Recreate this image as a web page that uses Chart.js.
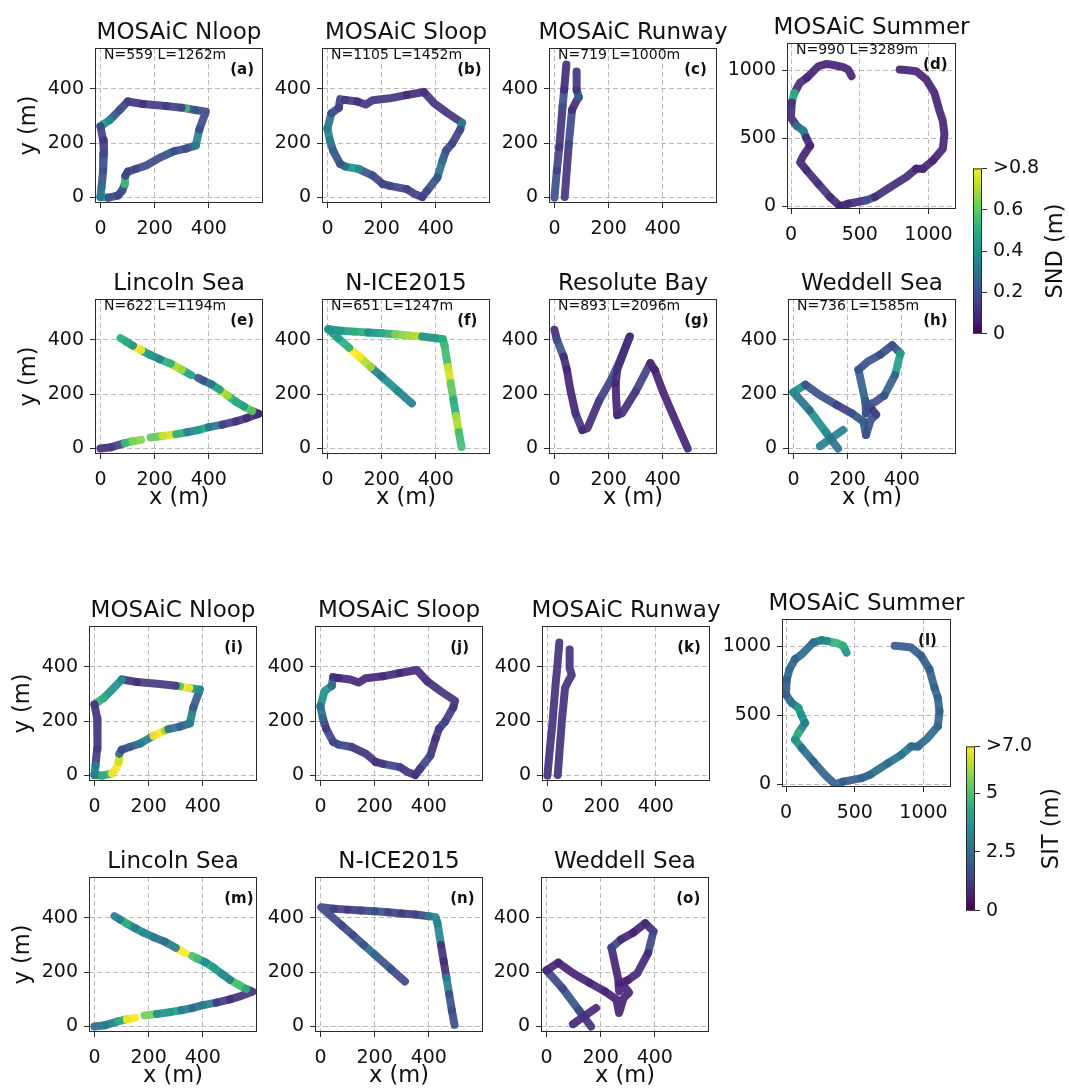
<!DOCTYPE html>
<html>
<head>
<meta charset="utf-8">
<title>Snow depth and ice thickness along survey tracks</title>
<script src="https://cdn.jsdelivr.net/npm/chart.js@4.4.1/dist/chart.umd.min.js"></script>
<style>
  html, body { margin: 0; padding: 0; background: #fff; }
  body { position: relative; width: 1069px; height: 1088px; overflow: hidden; }
  canvas { position: absolute; }
</style>
</head>
<body>
<script>
// ---------------------------------------------------------------
// Survey tracks (x, y in metres). Each track is shared by its snow
// depth (SND) panel and its sea-ice thickness (SIT) panel.
// null breaks the line where the track has a gap.
// ---------------------------------------------------------------
const nloopX = [0, 30, 65, 80, 90, 92, 101, 130, 169, 218, 260, 273, 315, 352, 365, 389, 350, 316, 300, 242, 157, 101, 71, 34, 0, 10, 13, 10, 4, 0];
const nloopY = [2, 0, 8, 25, 50, 80, 95, 105, 118, 146, 165, 171, 180, 192, 250, 316, 322, 328, 330, 337, 344, 353, 322, 285, 262, 211, 161, 99, 37, 2];
const nloopSND = [0.45, 0.18, 0.16, 0.2, 0.55, 0.15, 0.16, 0.18, 0.18, 0.18, 0.3, 0.18, 0.2, 0.35, 0.18, 0.18, 0.2, 0.55, 0.15, 0.14, 0.12, 0.16, 0.2, 0.4, 0.16, 0.14, 0.18, 0.2, 0.3, 0.3];
const nloopSIT = [3.5, 4.5, 7.0, 7.0, 6.5, 2.5, 1.5, 2.0, 3.0, 7.0, 6.0, 2.5, 2.2, 3.0, 2.0, 3.5, 7.0, 5.0, 1.2, 1.2, 1.0, 3.5, 3.5, 4.5, 1.0, 1.0, 1.0, 1.2, 3.0, 3.0];

const sloopX = [0, 15, 42, 47, 66, 110, 141, 167, 230, 293, 356, 394, 444, 497, 490, 460, 438, 425, 406, 368, 350, 324, 293, 230, 204, 167, 116, 66, 47, 21, 9, 0];
const sloopY = [254, 310, 330, 362, 359, 353, 342, 358, 365, 377, 388, 347, 310, 275, 250, 198, 173, 136, 74, 25, 2, 12, 31, 43, 50, 81, 105, 114, 124, 173, 211, 254];
const sloopSND = [0.3, 0.2, 0.15, 0.15, 0.14, 0.12, 0.12, 0.12, 0.12, 0.1, 0.12, 0.12, 0.12, 0.35, 0.16, 0.18, 0.2, 0.3, 0.2, 0.18, 0.14, 0.14, 0.16, 0.18, 0.16, 0.2, 0.4, 0.3, 0.2, 0.25, 0.35, 0.3];
const sloopSIT = [3.5, 3.5, 2.5, 1.0, 0.8, 0.8, 0.8, 0.8, 0.9, 0.8, 0.8, 1.0, 1.0, 1.0, 1.2, 1.5, 1.2, 1.0, 1.5, 1.2, 1.0, 1.0, 1.5, 1.2, 1.0, 1.0, 1.5, 1.8, 1.5, 1.2, 2.5, 3.0];

const runwayX = [0, 9, 18, 30, 36, 44, null, 38, 53, 65, 80, 90, 82, 82];
const runwayY = [0, 99, 186, 334, 396, 489, null, 2, 198, 322, 353, 369, 396, 464];
const runwaySND = [0.2, 0.16, 0.12, 0.2, 0.1, 0.1, null, 0.12, 0.18, 0.1, 0.1, 0.25, 0.12, 0.1];
const runwaySIT = [1.0, 1.0, 1.0, 1.0, 1.0, 1.0, null, 1.0, 1.0, 1.0, 1.0, 1.0, 1.0, 1.0];

const summerX = [440, 415, 379, 300, 258, 198, 114, 65, 24, 5, -2, 41, 89, 109, 138, 89, 65, 114, 198, 283, 355, 415, 548, 609, 742, 838, 910, 959, 1031, 1104, 1116, 1104, 1080, 1043, 983, 910, 850, 790];
const summerY = [956, 1005, 1022, 1040, 1046, 1029, 944, 908, 834, 762, 652, 591, 555, 506, 445, 372, 324, 263, 165, 68, 0, 19, 44, 68, 153, 214, 275, 275, 336, 421, 530, 628, 701, 834, 932, 993, 1000, 1005];
const summerSND = [0.08, 0.08, 0.08, 0.08, 0.08, 0.08, 0.1, 0.1, 0.5, 0.1, 0.1, 0.3, 0.35, 0.1, 0.08, 0.08, 0.08, 0.1, 0.12, 0.1, 0.08, 0.1, 0.2, 0.1, 0.1, 0.1, 0.08, 0.1, 0.08, 0.08, 0.08, 0.08, 0.08, 0.08, 0.08, 0.08, 0.08, 0.08];
const summerSIT = [3.5, 4.5, 4.5, 3.5, 3.0, 2.5, 2.5, 2.2, 2.5, 2.0, 2.2, 2.8, 4.0, 3.5, 3.0, 4.5, 3.5, 2.5, 2.2, 2.2, 2.2, 2.0, 2.2, 2.5, 2.6, 2.8, 2.5, 2.4, 2.4, 2.3, 2.2, 2.4, 2.2, 2.1, 2.0, 2.0, 2.0, 2.0];

const lincolnX = [0, 40, 90, 120, 150, null, 185, 230, 280, 320, 360, 400, 450, 500, 540, 575, 584, 560, 530, 500, 470, 440, 410, 380, 360, null, 335, 300, 260, 220, 180, 150, 120, 95, 74];
const lincolnY = [0, 5, 20, 27, 32, null, 41, 46, 53, 60, 68, 79, 88, 100, 112, 125, 128, 138, 155, 172, 194, 217, 236, 250, 260, null, 270, 290, 312, 328, 346, 362, 378, 393, 406];
const lincolnSND = [0.1, 0.15, 0.55, 0.65, 0.75, null, 0.6, 0.75, 0.5, 0.35, 0.45, 0.3, 0.15, 0.12, 0.1, 0.08, 0.1, 0.6, 0.45, 0.5, 0.7, 0.45, 0.3, 0.2, 0.2, null, 0.45, 0.7, 0.5, 0.35, 0.45, 0.8, 0.4, 0.5, 0.5];
const lincolnSIT = [2.5, 3.0, 4.5, 7.0, 3.5, null, 5.5, 3.5, 4.0, 3.0, 2.5, 3.0, 1.2, 1.0, 1.0, 1.0, 1.0, 4.5, 5.0, 3.0, 3.5, 4.0, 3.5, 5.0, 5.5, null, 7.0, 3.0, 2.5, 3.0, 3.5, 3.0, 4.5, 3.0, 2.5];

const niceX = [312, 260, 200, 160, 120, 80, 40, 3, 50, 100, 150, 200, 250, 300, 350, 400, 426, 432, 445, 455, 465, 475, 485, 495];
const niceY = [166, 212, 265, 300, 336, 371, 406, 439, 433, 430, 427, 424, 420, 416, 412, 406, 402, 380, 300, 240, 180, 120, 60, 6];
const niceSND = [0.35, 0.4, 0.35, 0.7, 0.8, 0.5, 0.45, 0.4, 0.45, 0.5, 0.4, 0.5, 0.65, 0.7, 0.4, 0.45, 0.5, 0.55, 0.75, 0.6, 0.5, 0.7, 0.55, 0.5];
const niceSIT = [1.5, 1.8, 2.5, 1.8, 1.6, 1.5, 1.5, 1.5, 1.3, 1.2, 1.5, 1.8, 1.4, 1.3, 1.5, 3.0, 3.0, 3.2, 1.0, 0.9, 3.0, 1.8, 1.6, 1.5];

const resoluteX = [0, 9, 34, 46, 59, 78, 103, 122, 165, 209, 245, 278, 262, 232, 226, 228, 232, 250, 300, 354, 370, 400, 450, 492];
const resoluteY = [437, 400, 338, 290, 215, 129, 68, 75, 176, 252, 330, 412, 370, 290, 240, 180, 123, 130, 210, 314, 290, 210, 95, 0];
const resoluteSND = [0.1, 0.2, 0.1, 0.08, 0.08, 0.12, 0.1, 0.1, 0.15, 0.22, 0.18, 0.1, 0.1, 0.1, 0.08, 0.08, 0.1, 0.1, 0.15, 0.1, 0.08, 0.08, 0.08, 0.08];

const weddellX = [98, 183, null, 165, 120, 60, 0, 44, 100, 160, 215, 258, 268, 285, 305, 285, 268, 265, 240, 275, 320, 365, 395, 375, 335, 300, 270];
const weddellY = [9, 68, null, 0, 60, 140, 207, 235, 195, 160, 130, 100, 50, 105, 125, 150, 130, 175, 290, 320, 345, 380, 350, 270, 195, 170, 160];
const weddellSND = [0.35, 0.35, null, 0.3, 0.4, 0.3, 0.4, 0.2, 0.2, 0.15, 0.2, 0.25, 0.2, 0.2, 0.15, 0.12, 0.2, 0.25, 0.2, 0.2, 0.18, 0.2, 0.45, 0.25, 0.2, 0.2, 0.2];
const weddellSIT = [0.8, 0.8, null, 1.0, 1.8, 1.5, 0.8, 0.7, 0.7, 0.8, 0.7, 0.7, 0.7, 0.7, 0.7, 0.7, 0.7, 0.7, 1.5, 0.8, 0.7, 0.8, 1.5, 0.8, 0.8, 0.7, 0.7];

// Axis ticks and colour-bar ticks
const ticksSmall = [0, 200, 400];
const ticksLarge = [0, 500, 1000];
const sndMax = 0.8;
const sitMax = 7.0;
const sndTicks = [0, 0.2, 0.4, 0.6, 0.8];
const sndTickLabels = ['0', '0.2', '0.4', '0.6', '>0.8'];
const sitTicks = [0, 2.5, 5, 7];
const sitTickLabels = ['0', '2.5', '5', '>7.0'];

// ---------------------------------------------------------------
// Styling helpers
// ---------------------------------------------------------------
const FONT = '"DejaVu Sans", "Liberation Sans", sans-serif';
const INK = '#111';
const VIRIDIS = ['#440154', '#482475', '#414487', '#355f8d', '#2a788e', '#21918c',
                 '#22a884', '#44bf70', '#7ad151', '#bddf26', '#fde725'];
const VIR = VIRIDIS.map(h => [1, 3, 5].map(i => parseInt(h.substr(i, 2), 16)));

function viridis(t, alpha = 1) {
  t = Math.max(0, Math.min(1, t));
  const s = t * 10, i = Math.min(9, Math.floor(s)), f = s - i;
  const c = VIR[i].map((v, k) => Math.round(v + (VIR[i + 1][k] - v) * f));
  return `rgba(${c[0]},${c[1]},${c[2]},${alpha})`;
}

const RANGE_SMALL = { x: [-20, 600], y: [-20, 550] };
const RANGE_LARGE = { x: [-30, 1200], y: [-20, 1200] };

// canvas margin around each plot box
const M = { l: 84, r: 14, t: 42, b: 62 };

// frame, title, annotations and axis titles of one panel
const panelDecor = {
  id: 'panelDecor',
  afterDraw(chart, args, o) {
    const { ctx, chartArea: a } = chart;
    const w = a.right - a.left, cx = (a.left + a.right) / 2, cy = (a.top + a.bottom) / 2;
    ctx.save();
    ctx.strokeStyle = '#2b2b2b';
    ctx.lineWidth = 1;
    ctx.strokeRect(a.left + 0.5, a.top + 0.5, w - 1, a.bottom - a.top - 1);
    ctx.fillStyle = INK;
    ctx.font = `23px ${FONT}`;
    ctx.textAlign = 'center';
    ctx.textBaseline = 'alphabetic';
    ctx.fillText(o.title, cx, a.top - 9);
    if (o.info) {
      ctx.font = `14px ${FONT}`;
      ctx.textAlign = 'left';
      ctx.textBaseline = 'middle';
      ctx.fillText(o.info, a.left + 9, a.top + 7.5);
    }
    ctx.font = `bold 15px ${FONT}`;
    ctx.textAlign = 'left';
    ctx.textBaseline = 'middle';
    ctx.fillText(o.tag, a.left + 0.805 * w, a.top + 22);
    ctx.font = `22.5px ${FONT}`;
    if (o.xlab) {
      ctx.textAlign = 'center';
      ctx.textBaseline = 'middle';
      ctx.fillText('x (m)', cx, a.bottom + 44);
    }
    if (o.ylab) {
      ctx.translate(a.left - 66, cy);
      ctx.rotate(-Math.PI / 2);
      ctx.textAlign = 'center';
      ctx.textBaseline = 'middle';
      ctx.fillText('y (m)', 0, 0);
    }
    ctx.restore();
  }
};

function axisOptions(range, ticks, fit, pad) {
  return {
    type: 'linear',
    min: range[0],
    max: range[1],
    afterBuildTicks: s => { s.ticks = ticks.map(v => ({ value: v })); },
    afterFit: fit,
    ticks: {
      font: { family: FONT, size: 19 }, color: INK, padding: pad,
      autoSkip: false, maxRotation: 0, callback: v => String(v)
    },
    grid: {
      color: 'rgba(175,175,175,0.85)', lineWidth: 1,
      tickColor: '#2b2b2b', tickLength: 5, tickWidth: 1
    },
    border: { display: false, dash: [5, 3] }
  };
}

function makePanel(p) {
  const [left, top, w, h] = p.box;
  const W = w + M.l + M.r, H = h + M.t + M.b;
  const c = document.createElement('canvas');
  c.width = W; c.height = H;
  c.style.left = (left - M.l) + 'px';
  c.style.top = (top - M.t) + 'px';
  c.style.width = W + 'px';
  c.style.height = H + 'px';
  document.body.appendChild(c);

  const range = p.large ? RANGE_LARGE : RANGE_SMALL;
  const ticks = p.large ? ticksLarge : ticksSmall;
  const points = p.xs.map((x, i) => ({ x: x, y: p.ys[i] }));
  const colorAt = i => viridis((p.vals[i] == null ? 0 : p.vals[i]) / p.vmax, 0.92);

  new Chart(c, {
    type: 'scatter',
    data: {
      datasets: [{
        data: points,
        showLine: true,
        spanGaps: false,
        borderWidth: 8,
        borderCapStyle: 'round',
        borderJoinStyle: 'round',
        borderColor: colorAt(0),
        pointRadius: 0,
        pointHoverRadius: 0,
        segment: { borderColor: ctx => colorAt(ctx.p0DataIndex) }
      }]
    },
    options: {
      responsive: false,
      animation: false,
      devicePixelRatio: 1,
      events: [],
      layout: { padding: { top: M.t, right: M.r, left: 0, bottom: 0 } },
      plugins: {
        legend: { display: false },
        tooltip: { enabled: false },
        panelDecor: { title: p.title, info: p.info, tag: p.tag, xlab: p.xlab, ylab: p.ylab }
      },
      scales: {
        x: axisOptions(range.x, ticks, s => { s.height = M.b; }, 10),
        y: axisOptions(range.y, ticks, s => { s.width = M.l; }, 6)
      }
    },
    plugins: [panelDecor]
  });
}

// ---------------------------------------------------------------
// Colour bars
// ---------------------------------------------------------------
const CB = { l: 4, t: 14, b: 14, r: 100 };

const colorbarFill = {
  id: 'colorbarFill',
  beforeDatasetsDraw(chart) {
    const { ctx, chartArea: a } = chart;
    const g = ctx.createLinearGradient(0, a.bottom, 0, a.top);
    VIRIDIS.forEach((col, i) => g.addColorStop(i / (VIRIDIS.length - 1), col));
    ctx.save();
    ctx.fillStyle = g;
    ctx.fillRect(a.left, a.top, a.right - a.left, a.bottom - a.top);
    ctx.restore();
  },
  afterDraw(chart, args, o) {
    const { ctx, chartArea: a } = chart;
    ctx.save();
    ctx.strokeStyle = '#2b2b2b';
    ctx.lineWidth = 1;
    ctx.strokeRect(a.left + 0.5, a.top + 0.5, a.right - a.left - 1, a.bottom - a.top - 1);
    ctx.fillStyle = INK;
    ctx.font = `22.5px ${FONT}`;
    ctx.translate(a.right + o.labelOffset, (a.top + a.bottom) / 2);
    ctx.rotate(-Math.PI / 2);
    ctx.textAlign = 'center';
    ctx.textBaseline = 'middle';
    ctx.fillText(o.label, 0, 0);
    ctx.restore();
  }
};

function makeColorbar(box, vmax, ticks, labels, label, labelOffset) {
  const [left, top, w, h] = box;
  const W = w + CB.l + CB.r, H = h + CB.t + CB.b;
  const c = document.createElement('canvas');
  c.width = W; c.height = H;
  c.style.left = (left - CB.l) + 'px';
  c.style.top = (top - CB.t) + 'px';
  c.style.width = W + 'px';
  c.style.height = H + 'px';
  document.body.appendChild(c);
  new Chart(c, {
    type: 'scatter',
    data: { datasets: [] },
    options: {
      responsive: false,
      animation: false,
      devicePixelRatio: 1,
      events: [],
      layout: { padding: { top: CB.t, bottom: CB.b, left: CB.l, right: 0 } },
      plugins: {
        legend: { display: false },
        tooltip: { enabled: false },
        colorbarFill: { label: label, labelOffset: labelOffset }
      },
      scales: {
        x: { display: false, min: 0, max: 1 },
        y: {
          position: 'right',
          min: 0,
          max: vmax,
          afterBuildTicks: s => { s.ticks = ticks.map(v => ({ value: v })); },
          afterFit: s => { s.width = CB.r; },
          ticks: {
            font: { family: FONT, size: 19 }, color: INK, padding: 6,
            autoSkip: false, callback: (v, i) => labels[i]
          },
          grid: { drawOnChartArea: false, tickColor: '#2b2b2b', tickLength: 5, tickWidth: 1 },
          border: { display: false }
        }
      }
    },
    plugins: [colorbarFill]
  });
}

// ---------------------------------------------------------------
// Layout: plot boxes [left, top, width, height] in page pixels
// ---------------------------------------------------------------
const panels = [
  // snow depth
  { box: [95, 48, 168, 155], title: 'MOSAiC Nloop', info: 'N=559 L=1262m', tag: '(a)', xs: nloopX, ys: nloopY, vals: nloopSND, vmax: sndMax, ylab: true },
  { box: [322, 48, 168, 155], title: 'MOSAiC Sloop', info: 'N=1105 L=1452m', tag: '(b)', xs: sloopX, ys: sloopY, vals: sloopSND, vmax: sndMax },
  { box: [549, 48, 168, 155], title: 'MOSAiC Runway', info: 'N=719 L=1000m', tag: '(c)', xs: runwayX, ys: runwayY, vals: runwaySND, vmax: sndMax },
  { box: [787, 43, 169, 166], title: 'MOSAiC Summer', info: 'N=990 L=3289m', tag: '(d)', xs: summerX, ys: summerY, vals: summerSND, vmax: sndMax, large: true },
  { box: [95, 299, 168, 155], title: 'Lincoln Sea', info: 'N=622 L=1194m', tag: '(e)', xs: lincolnX, ys: lincolnY, vals: lincolnSND, vmax: sndMax, ylab: true, xlab: true },
  { box: [322, 299, 168, 155], title: 'N-ICE2015', info: 'N=651 L=1247m', tag: '(f)', xs: niceX, ys: niceY, vals: niceSND, vmax: sndMax, xlab: true },
  { box: [549, 299, 168, 155], title: 'Resolute Bay', info: 'N=893 L=2096m', tag: '(g)', xs: resoluteX, ys: resoluteY, vals: resoluteSND, vmax: sndMax, xlab: true },
  { box: [788, 299, 168, 155], title: 'Weddell Sea', info: 'N=736 L=1585m', tag: '(h)', xs: weddellX, ys: weddellY, vals: weddellSND, vmax: sndMax, xlab: true },
  // sea-ice thickness
  { box: [89, 626, 168, 155], title: 'MOSAiC Nloop', tag: '(i)', xs: nloopX, ys: nloopY, vals: nloopSIT, vmax: sitMax, ylab: true },
  { box: [315, 626, 168, 155], title: 'MOSAiC Sloop', tag: '(j)', xs: sloopX, ys: sloopY, vals: sloopSIT, vmax: sitMax },
  { box: [542, 626, 168, 155], title: 'MOSAiC Runway', tag: '(k)', xs: runwayX, ys: runwayY, vals: runwaySIT, vmax: sitMax },
  { box: [782, 619, 169, 168], title: 'MOSAiC Summer', tag: '(l)', xs: summerX, ys: summerY, vals: summerSIT, vmax: sitMax, large: true },
  { box: [89, 877, 168, 155], title: 'Lincoln Sea', tag: '(m)', xs: lincolnX, ys: lincolnY, vals: lincolnSIT, vmax: sitMax, ylab: true, xlab: true },
  { box: [315, 877, 168, 155], title: 'N-ICE2015', tag: '(n)', xs: niceX, ys: niceY, vals: niceSIT, vmax: sitMax, xlab: true },
  { box: [541, 877, 168, 155], title: 'Weddell Sea', tag: '(o)', xs: weddellX, ys: weddellY, vals: weddellSIT, vmax: sitMax, xlab: true }
];

panels.forEach(makePanel);
makeColorbar([973, 165, 9, 172], sndMax, sndTicks, sndTickLabels, 'SND (m)', 74);
makeColorbar([966, 743, 9, 171], sitMax, sitTicks, sitTickLabels, 'SIT (m)', 77);
</script>
</body>
</html>
